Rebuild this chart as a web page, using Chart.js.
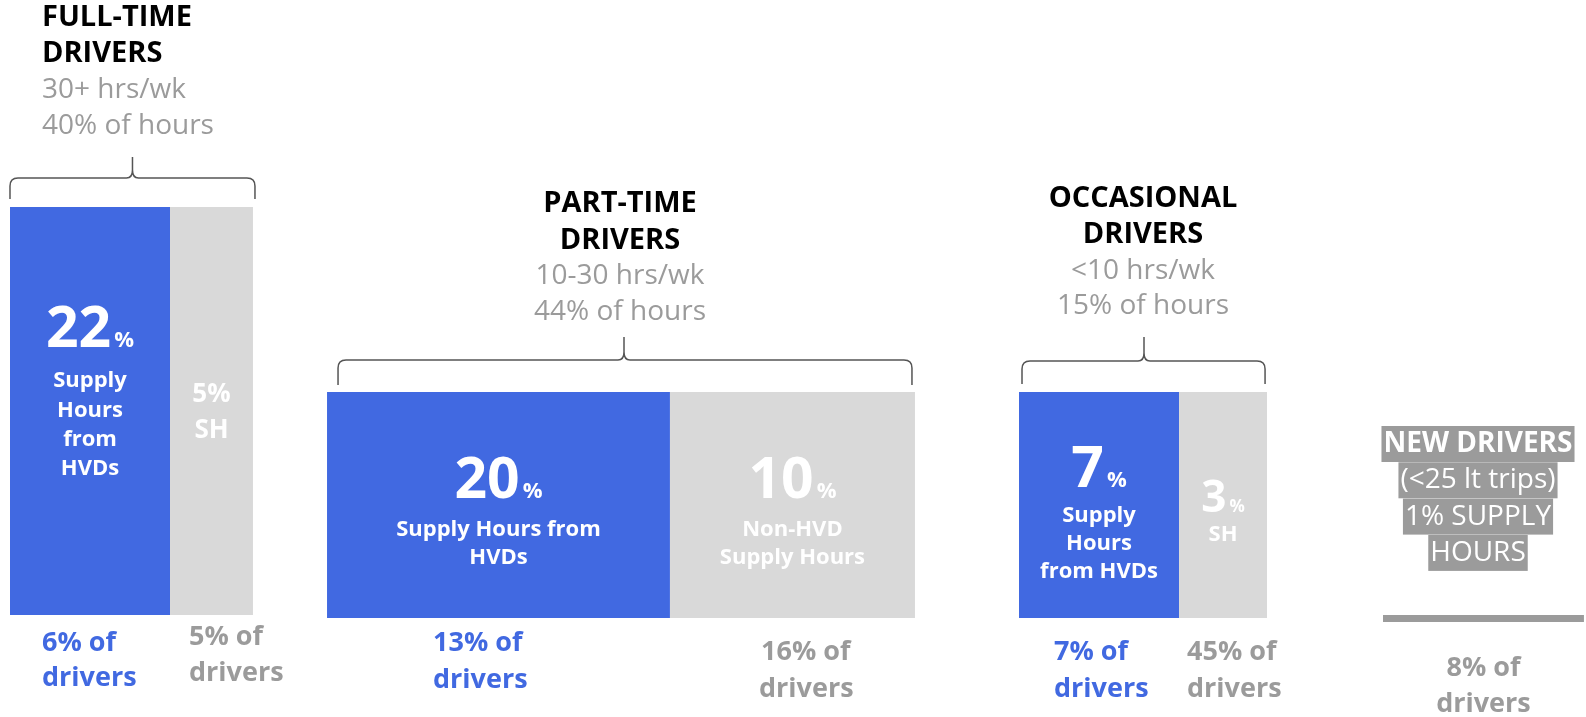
<!DOCTYPE html>
<html>
<head>
<meta charset="utf-8">
<script src="https://cdn.jsdelivr.net/npm/chart.js@4"></script>
<style>
  body { margin: 0; background: #fff; }
  canvas { display: block; }
</style>
</head>
<body>
<canvas id="chart" width="1586" height="717"></canvas>
<script>
// driver segments
var groups = ['FULL-TIME DRIVERS', 'PART-TIME DRIVERS', 'OCCASIONAL DRIVERS'];
var hoursRange = ['30+ hrs/wk', '10-30 hrs/wk', '<10 hrs/wk'];
var hoursShare = [40, 44, 15];
var hvdSupply = [22, 20, 7];      // % supply hours from HVDs
var otherSupply = [5, 10, 3];     // % supply hours, non HVD
var hvdDrivers = [6, 13, 7];      // % of drivers
var otherDrivers = [5, 16, 45];
var newSupply = 1;
var newDrivers = 8;

// block extents (chart units, 0-100 both ways)
var colStart = [0.63, 20.62, 64.25];
var hvdWidth = [10.09, 21.62, 10.09];
var otherWidth = [5.23, 15.45, 5.55];
var colTop = [71.13, 45.33, 45.33];
var colBase = [14.23, 13.81, 13.81];
var newBox = { start: 87.2, width: 12.67, top: 14.23, base: 13.25 };

var BLUE = '#4169e1';
var GREY = '#d9d9d9';
var DARK = '#9b9b9b';
var FONT = '"Open Sans", sans-serif';

function rect(x0, x1, top, base, color) {
    return {
        data: [{ x: x0, y: top }, { x: x1, y: top }],
        fill: { value: base },
        backgroundColor: color,
        borderWidth: 0,
        pointRadius: 0
    };
}

var datasets = [];
for (let i = 0; i < groups.length; i++) {
    let mid = colStart[i] + hvdWidth[i];
    datasets.push(rect(colStart[i], mid, colTop[i], colBase[i], BLUE));
    datasets.push(rect(mid, mid + otherWidth[i], colTop[i], colBase[i], GREY));
}
datasets.push(rect(newBox.start, newBox.start + newBox.width, newBox.top, newBox.base, DARK));

function txt(ctx, s, x, y, size, weight, color, align) {
    ctx.font = weight + ' ' + size + 'px ' + FONT;
    ctx.fillStyle = color;
    ctx.textAlign = align || 'center';
    ctx.textBaseline = 'middle';
    ctx.fillText(s, x, y);
}

// big number with a small % sign, centred on x, sitting on baseline y
function bigPct(ctx, n, x, y, size, color) {
    ctx.textBaseline = 'alphabetic';
    ctx.font = 'bold ' + size + 'px ' + FONT;
    let w1 = ctx.measureText(n).width;
    ctx.font = 'bold ' + Math.round(size * 0.38) + 'px ' + FONT;
    let w2 = ctx.measureText('%').width;
    let left = x - (w1 + w2 + 3) / 2;
    ctx.fillStyle = color;
    ctx.textAlign = 'left';
    ctx.font = 'bold ' + size + 'px ' + FONT;
    ctx.fillText(n, left, y);
    ctx.font = 'bold ' + Math.round(size * 0.38) + 'px ' + FONT;
    ctx.fillText('%', left + w1 + 3, y);
}

function brace(ctx, x0, x1, cx, yLine, yEnd, yTip) {
    ctx.save();
    ctx.strokeStyle = '#555';
    ctx.lineWidth = 1.5;
    ctx.beginPath();
    ctx.moveTo(x0, yEnd);
    ctx.lineTo(x0, yLine + 8);
    ctx.quadraticCurveTo(x0, yLine, x0 + 8, yLine);
    ctx.lineTo(cx - 6, yLine);
    ctx.quadraticCurveTo(cx, yLine, cx, yLine - 8);
    ctx.lineTo(cx, yTip);
    ctx.moveTo(cx, yLine - 8);
    ctx.quadraticCurveTo(cx, yLine, cx + 6, yLine);
    ctx.lineTo(x1 - 8, yLine);
    ctx.quadraticCurveTo(x1, yLine, x1, yLine + 8);
    ctx.lineTo(x1, yEnd);
    ctx.stroke();
    ctx.restore();
}

var labelsPlugin = {
    id: 'labels',
    afterDatasetsDraw(chart) {
        let ctx = chart.ctx;
        let xs = chart.scales.x;
        let px = v => xs.getPixelForValue(v);
        let L = [], M = [], R = [];
        for (let i = 0; i < groups.length; i++) {
            L.push(px(colStart[i]));
            M.push(px(colStart[i] + hvdWidth[i]));
            R.push(px(colStart[i] + hvdWidth[i] + otherWidth[i]));
        }
        let hc = i => (L[i] + M[i]) / 2;
        let oc = i => (M[i] + R[i]) / 2;
        let head = groups.map(g => g.split(' '));
        ctx.save();

        // full-time
        txt(ctx, head[0][0], 42, 18, 29, 'bold', '#000', 'left');
        txt(ctx, head[0][1], 42, 54, 29, 'bold', '#000', 'left');
        txt(ctx, hoursRange[0], 42, 90, 28, 'normal', DARK, 'left');
        txt(ctx, hoursShare[0] + '% of hours', 42, 126, 28, 'normal', DARK, 'left');
        brace(ctx, L[0], R[0] + 2, (L[0] + R[0]) / 2 + 1, 178, 199, 157);
        bigPct(ctx, String(hvdSupply[0]), hc(0), 347, 57, '#fff');
        ['Supply', 'Hours', 'from', 'HVDs'].forEach((s, k) => txt(ctx, s, hc(0), 381 + k * 29.3, 22, 'bold', '#fff'));
        txt(ctx, otherSupply[0] + '%', oc(0), 395, 26, 'bold', '#fff');
        txt(ctx, 'SH', oc(0), 431, 26, 'bold', '#fff');
        txt(ctx, hvdDrivers[0] + '% of', 42, 643, 27, 'bold', BLUE, 'left');
        txt(ctx, 'drivers', 42, 678, 27, 'bold', BLUE, 'left');
        txt(ctx, otherDrivers[0] + '% of', 189, 637, 27, 'bold', DARK, 'left');
        txt(ctx, 'drivers', 189, 673, 27, 'bold', DARK, 'left');

        // part-time
        txt(ctx, head[1][0], 620, 204, 29, 'bold', '#000');
        txt(ctx, head[1][1], 620, 241, 29, 'bold', '#000');
        txt(ctx, hoursRange[1], 620, 276, 28, 'normal', DARK);
        txt(ctx, hoursShare[1] + '% of hours', 620, 312, 28, 'normal', DARK);
        brace(ctx, L[1] + 11, R[1] - 3, 624, 360, 385, 337);
        bigPct(ctx, String(hvdSupply[1]), hc(1), 498, 57, '#fff');
        txt(ctx, 'Supply Hours from', hc(1), 530, 22, 'bold', '#fff');
        txt(ctx, 'HVDs', hc(1), 558, 22, 'bold', '#fff');
        bigPct(ctx, String(otherSupply[1]), oc(1), 498, 57, '#fff');
        txt(ctx, 'Non-HVD', oc(1), 530, 22, 'bold', '#fff');
        txt(ctx, 'Supply Hours', oc(1), 558, 22, 'bold', '#fff');
        txt(ctx, hvdDrivers[1] + '% of', 433, 643, 27, 'bold', BLUE, 'left');
        txt(ctx, 'drivers', 433, 680, 27, 'bold', BLUE, 'left');
        txt(ctx, otherDrivers[1] + '% of', 761, 652, 27, 'bold', DARK, 'left');
        txt(ctx, 'drivers', 759, 689, 27, 'bold', DARK, 'left');

        // occasional
        txt(ctx, head[2][0], 1143, 199, 29, 'bold', '#000');
        txt(ctx, head[2][1], 1143, 235, 29, 'bold', '#000');
        txt(ctx, hoursRange[2], 1143, 271, 28, 'normal', DARK);
        txt(ctx, hoursShare[2] + '% of hours', 1143, 306, 28, 'normal', DARK);
        brace(ctx, L[2] + 3, R[2] - 2, 1144, 361, 384, 337);
        bigPct(ctx, String(hvdSupply[2]), hc(2), 487, 57, '#fff');
        ['Supply', 'Hours', 'from HVDs'].forEach((s, k) => txt(ctx, s, hc(2), 516 + k * 28, 22, 'bold', '#fff'));
        bigPct(ctx, String(otherSupply[2]), oc(2), 512, 44, '#fff');
        txt(ctx, 'SH', oc(2), 535, 22, 'bold', '#fff');
        txt(ctx, hvdDrivers[2] + '% of', 1054, 652, 27, 'bold', BLUE, 'left');
        txt(ctx, 'drivers', 1054, 689, 27, 'bold', BLUE, 'left');
        txt(ctx, otherDrivers[2] + '% of', 1187, 652, 27, 'bold', DARK, 'left');
        txt(ctx, 'drivers', 1187, 689, 27, 'bold', DARK, 'left');

        // new drivers, each line on its own grey highlight
        let nx = 1478;
        let lines = [
            ['NEW DRIVERS', 'bold'],
            ['(<25 lt trips)', 'normal'],
            [newSupply + '% SUPPLY', 'normal'],
            ['HOURS', 'normal']
        ];
        lines.forEach((ln, k) => {
            let y = 444 + k * 36.3;
            ctx.font = ln[1] + ' 28px ' + FONT;
            let w = ctx.measureText(ln[0]).width;
            ctx.fillStyle = DARK;
            ctx.fillRect(nx - w / 2 - 2, y - 18, w + 4, 36);
            txt(ctx, ln[0], nx, y, 28, ln[1], '#fff');
        });
        let nc = px(newBox.start + newBox.width / 2);
        txt(ctx, newDrivers + '% of', nc, 668, 27, 'bold', DARK);
        txt(ctx, 'drivers', nc, 704, 27, 'bold', DARK);

        ctx.restore();
    }
};

var ctx = document.getElementById('chart').getContext('2d');
var chart = new Chart(ctx, {
    type: 'line',
    data: { datasets: datasets },
    options: {
        responsive: false,
        animation: false,
        layout: { padding: 0 },
        scales: {
            x: { type: 'linear', min: 0, max: 100, display: false },
            y: { type: 'linear', min: 0, max: 100, display: false }
        },
        plugins: {
            legend: { display: false },
            tooltip: { enabled: false }
        }
    },
    plugins: [labelsPlugin]
});
</script>
</body>
</html>
